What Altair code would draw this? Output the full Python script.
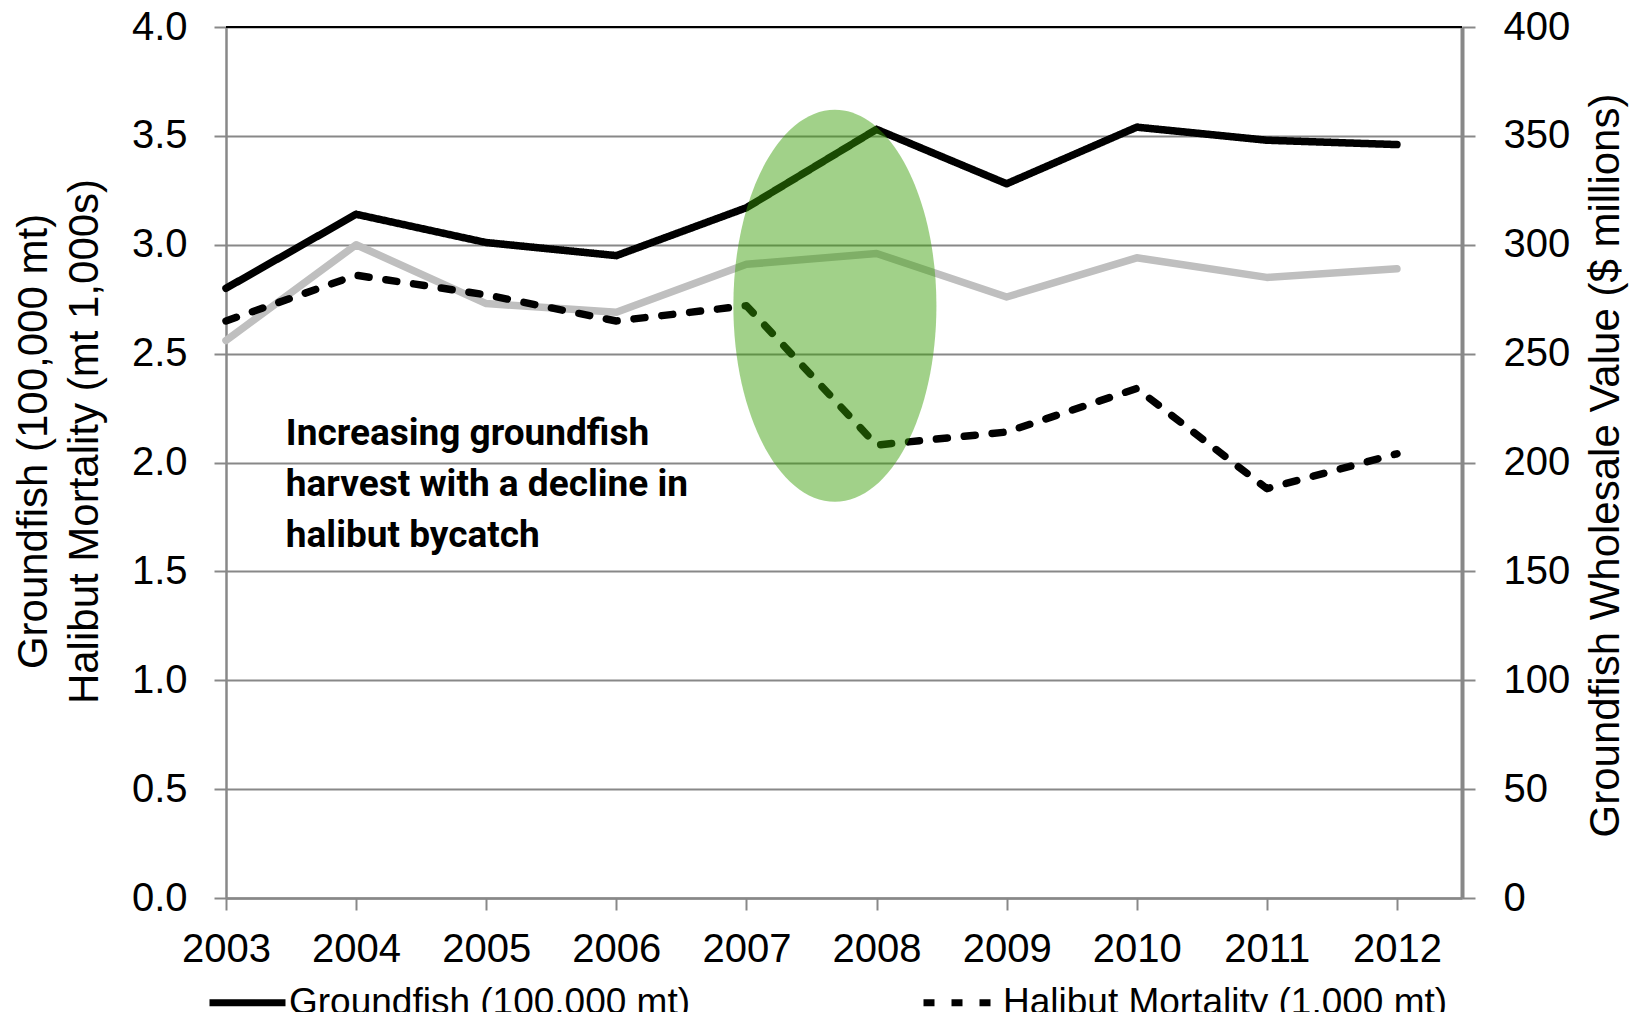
import altair as alt
import pandas as pd

years = [2003, 2004, 2005, 2006, 2007, 2008, 2009, 2010, 2011, 2012]
groundfish = [2.80, 3.14, 3.01, 2.95, 3.17, 3.53, 3.28, 3.54, 3.48, 3.46]
halibut = [2.65, 2.86, 2.77, 2.65, 2.72, 2.08, 2.14, 2.34, 1.88, 2.04]
wholesale = [256, 300, 273, 269, 291, 296, 276, 294, 285, 289]

series_names = ["Groundfish (100,000 mt)", "Halibut Mortality (1,000 mt)"]
left_ticks = [0.0, 0.5, 1.0, 1.5, 2.0, 2.5, 3.0, 3.5, 4.0]
right_ticks = [0, 50, 100, 150, 200, 250, 300, 350, 400]
note_lines = ["Increasing groundfish", "harvest with a decline in", "halibut bycatch"]
ellipse_center = [2007.68, 2.72]
note_pos = [2003.46, 2.13]

rows = []
for y, g, h in zip(years, groundfish, halibut):
    rows.append({"year": y, "series": series_names[0], "v": g})
    rows.append({"year": y, "series": series_names[1], "v": h})
df_left = pd.DataFrame(rows)
df_right = pd.DataFrame({"year": years, "value": wholesale})

FONT = "Liberation Sans"
xscale = alt.Scale(domain=[2003, 2012.5], nice=False, zero=False)
yscale = alt.Scale(domain=[0, 4], nice=False, zero=True)

legend = alt.Legend(
    title=None, orient="none", direction="horizontal", legendX=-20, legendY=934,
    symbolType="stroke", symbolSize=5776, symbolStrokeWidth=7,
    labelFont=FONT, labelFontSize=37, labelColor="black", labelLimit=1000,
    labelOffset=0, columnPadding=218, padding=0, columns=2,
)

lines = alt.Chart(df_left).mark_line(strokeWidth=7.5, strokeCap="round", strokeJoin="round").encode(
    x=alt.X("year:Q", scale=xscale, axis=alt.Axis(values=years, format="d", title=None,
                                                  labelFlush=False, labelOverlap=False, grid=False)),
    y=alt.Y("v:Q", scale=yscale, axis=alt.Axis(
        values=left_ticks, format=".1f",
        title=["Groundfish (100,000 mt)", "Halibut Mortality (mt 1,000s)"],
        titleAngle=270, titleX=-193, titleY=414, titleBaseline="middle",
        titleAlign="center", titleLineHeight=51, grid=True)),
    color=alt.Color("series:N", scale=alt.Scale(domain=series_names, range=["black", "black"]),
                    legend=legend),
    strokeDash=alt.StrokeDash("series:N", scale=alt.Scale(domain=series_names, range=[[1, 0], [11, 17]]),
                              legend=legend),
)

top_rule = alt.Chart().mark_rule(color="black", strokeWidth=2).encode(
    y=alt.datum(4.0, scale=yscale)
)

ellipse = alt.Chart().mark_point(
    shape="M -0.518 0 A 0.518 1 0 1 0 0.518 0 A 0.518 1 0 1 0 -0.518 0 Z",
    filled=True, fill="#389E04", fillOpacity=0.47, strokeWidth=0, size=153664,
).encode(
    x=alt.datum(ellipse_center[0], scale=xscale),
    y=alt.datum(ellipse_center[1], scale=yscale),
)

note = alt.Chart().mark_text(
    text=note_lines, align="left", baseline="middle", lineHeight=51,
    font="Roboto", fontSize=37, fontWeight="bold", color="black",
).encode(
    x=alt.datum(note_pos[0], scale=xscale),
    y=alt.datum(note_pos[1], scale=yscale),
)

left = alt.layer(lines, top_rule, ellipse, note)

right = alt.Chart(df_right).mark_line(color="#BFBFBF", strokeWidth=7.5, strokeCap="round",
                                      strokeJoin="round").encode(
    x=alt.X("year:Q", scale=xscale),
    y=alt.Y("value:Q", scale=alt.Scale(domain=[0, 400], nice=False), axis=alt.Axis(
        orient="right", values=right_ticks, format="d",
        title="Groundfish Wholesale Value ($ millions)",
        titleAngle=270, titleX=143, titleY=438, titleBaseline="middle",
        titleAlign="center", grid=False)),
)

chart = alt.layer(right, left).resolve_scale(y="independent").properties(
    width=1236, height=871,
    autosize=alt.AutoSizeParams(type="none"),
    padding={"left": 218, "top": 19, "right": 171, "bottom": 114},
).configure_view(stroke=None).configure_axis(
    labelFont=FONT, labelFontSize=40, labelColor="black",
    titleFont=FONT, titleFontSize=42, titleFontWeight="normal", titleColor="black",
    domainColor="#888888", domainWidth=2.5, tickColor="#888888", tickWidth=2,
    gridColor="#888888", gridWidth=2,
).configure_axisX(grid=False).configure_axisLeft(
    tickSize=12, labelPadding=27, labelFlush=False,
).configure_axisRight(
    tickSize=13, labelPadding=28, domainWidth=4, labelFlush=False,
).configure_axisBottom(
    tickSize=12, labelPadding=19, grid=False,
)

chart.save("out.html", embed_options={"renderer": "svg", "actions": False})
